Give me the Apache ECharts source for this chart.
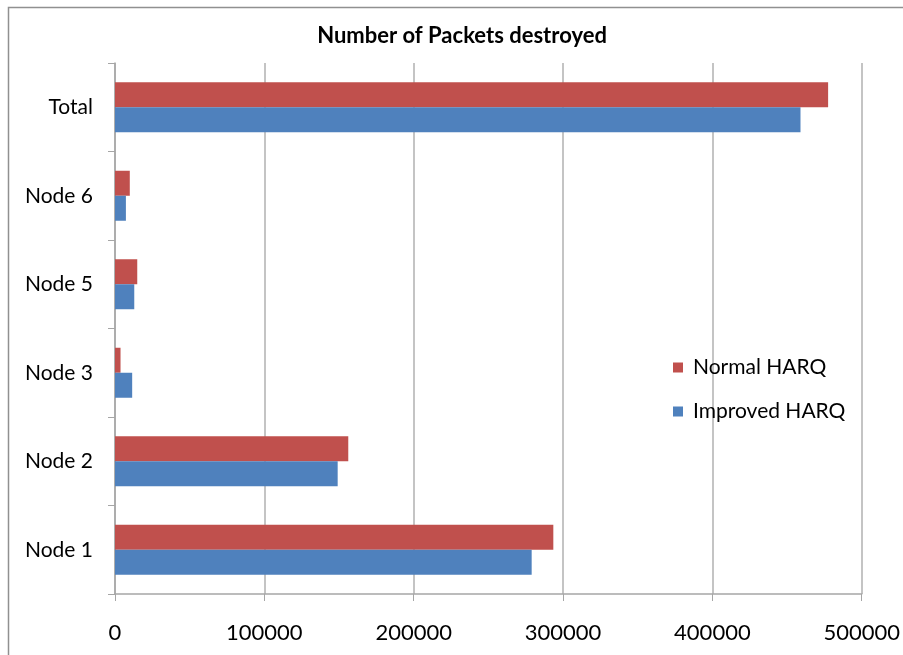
<!DOCTYPE html>
<html>
<head>
<meta charset="utf-8">
<script src="https://cdn.jsdelivr.net/npm/echarts@6/dist/echarts.min.js"></script>
<style>
  html, body { margin: 0; padding: 0; background: #fff; }
  #chart { width: 903px; height: 655px; }
</style>
</head>
<body>
<div id="chart"></div>
<script>
// categories, bottom to top
const categories = ['Node 1', 'Node 2', 'Node 3', 'Node 5', 'Node 6', 'Total']
const normalHarq = [293500, 156200, 3700, 14900, 9900, 477500]
const improvedHarq = [279000, 149100, 11500, 12900, 7300, 459000]

const FONT = 'Lato'

const chart = echarts.init(document.getElementById('chart'))

chart.setOption({
  backgroundColor: '#ffffff',
  animation: false,
  /** 外框 */
  graphic: [{
    type: 'rect',
    shape: {x: 8.5, y: 7.5, width: 1200, height: 1200},
    style: {fill: 'none', stroke: '#909090', lineWidth: 1.5},
    silent: true,
  }],
  title: {
    text: 'Number of Packets destroyed',
    left: 457,
    textAlign: 'center',
    top: 20,
    textStyle: {fontFamily: FONT, fontWeight: 'bold', fontSize: 22, color: '#000'},
  },
  legend: {
    orient: 'vertical',
    left: 673,
    top: 357,
    padding: 0,
    itemGap: 23,
    itemWidth: 10,
    itemHeight: 10,
    icon: 'rect',
    data: ['Normal HARQ', 'Improved HARQ'],
    textStyle: {fontFamily: FONT, fontSize: 21, color: '#000', padding: [0, 0, 0, 5]},
  },
  grid: {
    left: 115,
    right: 39,
    top: 63,
    bottom: 61,
    containLabel: false,
  },
  xAxis: {
    type: 'value',
    min: 0,
    max: 500000,
    interval: 100000,
    axisLine: {show: true, lineStyle: {color: '#a6a6a6', width: 1.5}},
    axisTick: {show: true, length: 7, lineStyle: {color: '#a6a6a6'}},
    axisLabel: {fontFamily: FONT, fontSize: 22, color: '#000', margin: 28, formatter: (v) => String(v)},
    splitLine: {show: true, lineStyle: {color: '#b0b0b0', width: 1.5}},
  },
  yAxis: {
    type: 'category',
    data: categories,
    axisLine: {show: true, lineStyle: {color: '#a6a6a6', width: 1.5}},
    axisTick: {show: true, length: 7, lineStyle: {color: '#a6a6a6'}},
    axisLabel: {fontFamily: FONT, fontSize: 21, color: '#000', margin: 22},
    splitLine: {show: false},
  },
  series: [
    {
      name: 'Normal HARQ',
      type: 'bar',
      data: normalHarq,
      barWidth: 25,
      barGap: '0%',
      itemStyle: {color: '#c0504d'},
    },
    {
      name: 'Improved HARQ',
      type: 'bar',
      data: improvedHarq,
      barWidth: 25,
      barGap: '0%',
      itemStyle: {color: '#4f81bd'},
    },
  ],
})
</script>
</body>
</html>
